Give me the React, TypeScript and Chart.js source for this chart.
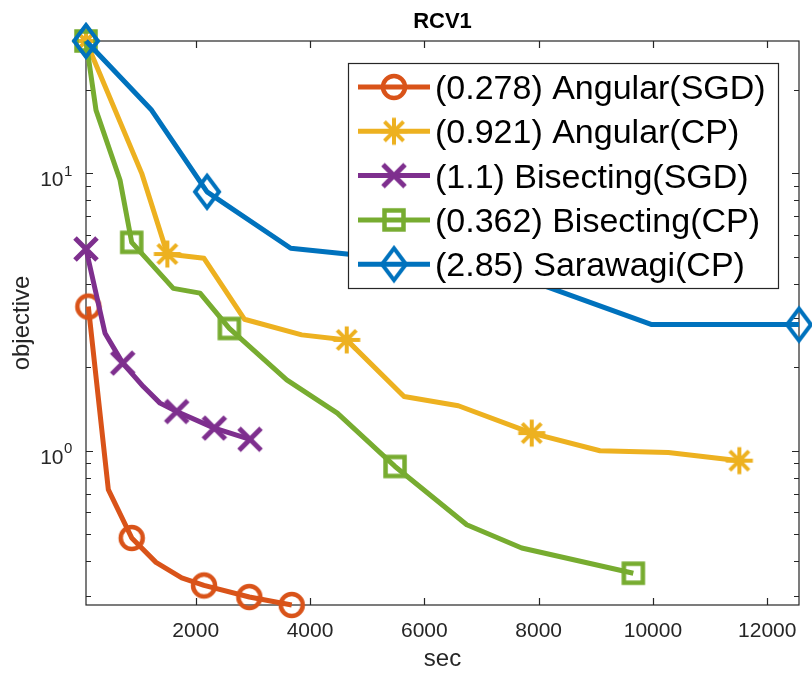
import React, { useEffect, useRef } from 'react';
import { Chart, registerables } from 'chart.js';

Chart.register(...registerables);

// ---------------- data ----------------
const TITLE = 'RCV1';
const X_LABEL = 'sec';
const Y_LABEL = 'objective';

const X_MIN = 80;
const X_MAX = 12556;
const Y_MIN = 0.278;
const Y_MAX = 30;

const X_TICKS = [2000, 4000, 6000, 8000, 10000, 12000];
const X_TICK_LABELS = ['2000', '4000', '6000', '8000', '10000', '12000'];
const Y_MAJOR_TICKS = [1, 10];
const Y_MAJOR_EXPONENTS = ['0', '1'];
const Y_MINOR_TICKS = [0.3, 0.4, 0.5, 0.6, 0.7, 0.8, 0.9, 2, 3, 4, 5, 6, 7, 8, 9, 20];

const SERIES_LABELS = [
  '(0.278) Angular(SGD)',
  '(0.921) Angular(CP)',
  '(1.1) Bisecting(SGD)',
  '(0.362) Bisecting(CP)',
  '(2.85) Sarawagi(CP)',
];

const angularSgdX = [121, 471, 880, 1305, 1755, 2145, 2938, 3680];
const angularSgdY = [3.31, 0.724, 0.485, 0.396, 0.348, 0.327, 0.297, 0.278];
const angularSgdMarks = [0, 2, 5, 6, 7];

const angularCpX = [80, 1055, 1503, 2145, 2851, 3855, 4642, 5645, 6595, 7879, 9074, 10269, 11512];
const angularCpY = [30, 10.0, 5.12, 4.94, 2.98, 2.617, 2.51, 1.569, 1.453, 1.158, 1.0, 0.986, 0.921];
const angularCpMarks = [0, 2, 6, 9, 12];

const bisectingSgdX = [80, 413, 723, 1083, 1375, 1667, 2326, 2950];
const bisectingSgdY = [5.34, 2.654, 2.07, 1.704, 1.485, 1.385, 1.207, 1.1];
const bisectingSgdMarks = [0, 2, 5, 6, 7];

const bisectingCpX = [80, 255, 675, 880, 1608, 2075, 2588, 3592, 4478, 5487, 6742, 7704, 9657];
const bisectingCpY = [30, 16.9, 9.46, 5.64, 3.85, 3.7, 2.76, 1.8, 1.367, 0.878, 0.541, 0.446, 0.362];
const bisectingCpMarks = [0, 3, 6, 9, 12];

const sarawagiCpX = [80, 1218, 2198, 3662, 7325, 9980, 12556];
const sarawagiCpY = [30, 17.0, 8.58, 5.37, 4.49, 2.85, 2.85];
const sarawagiCpMarks = [0, 2, 6];

// ---------------- styles ----------------
const FONT = '"Liberation Sans", Arial, Helvetica, sans-serif';
const AXIS_COLOR = '#262626';
const COLORS = ['#D95319', '#EDB120', '#7E2F8E', '#77AC30', '#0072BD'];
const MARKERS = ['circle', 'asterisk', 'x', 'square', 'diamond'];

function makeMarker(kind: string, color: string): HTMLCanvasElement {
  const c = document.createElement('canvas');
  c.width = 48;
  c.height = 48;
  const g = c.getContext('2d')!;
  g.translate(24, 24);
  g.strokeStyle = color;
  g.lineCap = 'butt';
  g.lineJoin = 'miter';
  g.beginPath();
  if (kind === 'circle') {
    g.lineWidth = 4.5;
    g.arc(0, 0, 11, 0, Math.PI * 2);
  } else if (kind === 'asterisk') {
    g.lineWidth = 4;
    const r = 13.5;
    for (let k = 0; k < 4; k++) {
      const a = (k * Math.PI) / 4;
      g.moveTo(-r * Math.cos(a), -r * Math.sin(a));
      g.lineTo(r * Math.cos(a), r * Math.sin(a));
    }
  } else if (kind === 'x') {
    g.lineWidth = 5;
    const r = 11;
    g.moveTo(-r, -r);
    g.lineTo(r, r);
    g.moveTo(-r, r);
    g.lineTo(r, -r);
  } else if (kind === 'square') {
    g.lineWidth = 4.5;
    g.rect(-9.5, -9.5, 19, 19);
  } else if (kind === 'diamond') {
    g.lineWidth = 4;
    g.moveTo(0, -16);
    g.lineTo(12, 0);
    g.lineTo(0, 16);
    g.lineTo(-12, 0);
    g.closePath();
  }
  g.stroke();
  return c;
}

function makeAxesPlugin(markers: HTMLCanvasElement[]) {
  return {
    id: 'matlabAxes',
    beforeDatasetsDraw(chart: any) {
      const { ctx, chartArea: a, scales } = chart;
      const xs = scales.x;
      const ys = scales.y;
      ctx.save();
      ctx.strokeStyle = AXIS_COLOR;
      ctx.lineWidth = 1.2;
      ctx.strokeRect(a.left, a.top, a.right - a.left, a.bottom - a.top);

      ctx.beginPath();
      X_TICKS.forEach((t) => {
        const p = Math.round(xs.getPixelForValue(t)) + 0.5;
        ctx.moveTo(p, a.bottom);
        ctx.lineTo(p, a.bottom - 7);
        ctx.moveTo(p, a.top);
        ctx.lineTo(p, a.top + 7);
      });
      Y_MAJOR_TICKS.forEach((t) => {
        const p = Math.round(ys.getPixelForValue(t)) + 0.5;
        ctx.moveTo(a.left, p);
        ctx.lineTo(a.left + 7, p);
        ctx.moveTo(a.right, p);
        ctx.lineTo(a.right - 7, p);
      });
      Y_MINOR_TICKS.forEach((t) => {
        const p = Math.round(ys.getPixelForValue(t)) + 0.5;
        ctx.moveTo(a.left, p);
        ctx.lineTo(a.left + 5, p);
        ctx.moveTo(a.right, p);
        ctx.lineTo(a.right - 5, p);
      });
      ctx.stroke();

      // tick labels
      ctx.fillStyle = AXIS_COLOR;
      ctx.font = `21px ${FONT}`;
      ctx.textAlign = 'center';
      ctx.textBaseline = 'alphabetic';
      X_TICKS.forEach((t, i) => {
        ctx.fillText(X_TICK_LABELS[i], xs.getPixelForValue(t), a.bottom + 32);
      });
      Y_MAJOR_TICKS.forEach((t, i) => {
        const p = ys.getPixelForValue(t);
        ctx.font = `21px ${FONT}`;
        ctx.textAlign = 'right';
        ctx.fillText('10', a.left - 22.5, p + 12.8);
        ctx.font = `15px ${FONT}`;
        ctx.textAlign = 'left';
        ctx.fillText(Y_MAJOR_EXPONENTS[i], a.left - 22, p + 2.5);
      });

      // axis labels
      ctx.font = `24px ${FONT}`;
      ctx.textAlign = 'center';
      ctx.fillText(X_LABEL, (a.left + a.right) / 2, a.bottom + 61);
      ctx.save();
      ctx.translate(28.5, (a.top + a.bottom) / 2);
      ctx.rotate(-Math.PI / 2);
      ctx.fillText(Y_LABEL, 0, 0);
      ctx.restore();

      // title
      ctx.fillStyle = '#000';
      ctx.font = `bold 22px ${FONT}`;
      ctx.fillText(TITLE, (a.left + a.right) / 2, 27.5);
      ctx.restore();
    },
    afterDraw(chart: any) {
      const { ctx } = chart;
      ctx.save();
      const bx = 348, by = 63, bw = 430, bh = 225;
      ctx.fillStyle = '#fff';
      ctx.fillRect(bx, by, bw, bh);
      ctx.strokeStyle = AXIS_COLOR;
      ctx.lineWidth = 1.2;
      ctx.strokeRect(bx + 0.5, by + 0.5, bw, bh);
      SERIES_LABELS.forEach((label, i) => {
        const y = 87 + i * 44.3;
        ctx.strokeStyle = COLORS[i];
        ctx.lineWidth = 5;
        ctx.beginPath();
        ctx.moveTo(358, y);
        ctx.lineTo(430, y);
        ctx.stroke();
        const m = markers[i];
        ctx.drawImage(m, 394 - m.width / 2, y - m.height / 2);
        ctx.fillStyle = '#000';
        ctx.font = `34px ${FONT}`;
        ctx.textAlign = 'left';
        ctx.textBaseline = 'alphabetic';
        ctx.fillText(label, 435, y + 12);
      });
      ctx.restore();
    },
  };
}

export default function App() {
  const ref = useRef<HTMLCanvasElement | null>(null);

  useEffect(() => {
    const markers = MARKERS.map((m, i) => makeMarker(m, COLORS[i]));
    const series = [
      { xs: angularSgdX, ys: angularSgdY, marks: angularSgdMarks },
      { xs: angularCpX, ys: angularCpY, marks: angularCpMarks },
      { xs: bisectingSgdX, ys: bisectingSgdY, marks: bisectingSgdMarks },
      { xs: bisectingCpX, ys: bisectingCpY, marks: bisectingCpMarks },
      { xs: sarawagiCpX, ys: sarawagiCpY, marks: sarawagiCpMarks },
    ];
    const datasets = series.map((s, i) => ({
      label: SERIES_LABELS[i],
      data: s.xs.map((x, j) => ({ x, y: s.ys[j] })),
      borderColor: COLORS[i],
      backgroundColor: COLORS[i],
      borderWidth: 5,
      borderJoinStyle: 'round' as const,
      tension: 0,
      fill: false,
      clip: false as any,
      order: 5 - i,
      pointStyle: markers[i] as any,
      pointRadius: (c: any) => (s.marks.includes(c.dataIndex) ? 12 : 0),
      pointHoverRadius: (c: any) => (s.marks.includes(c.dataIndex) ? 12 : 0),
      pointBorderWidth: 0,
    }));

    const chart = new Chart(ref.current!, {
      type: 'line',
      data: { datasets },
      options: {
        responsive: false,
        animation: false,
        events: [],
        layout: { padding: { left: 86, top: 41, right: 13, bottom: 68 } },
        scales: {
          x: { type: 'linear', min: X_MIN, max: X_MAX, display: false },
          y: { type: 'logarithmic', min: Y_MIN, max: Y_MAX, display: false },
        },
        plugins: {
          legend: { display: false },
          tooltip: { enabled: false },
          title: { display: false },
        },
      },
      plugins: [makeAxesPlugin(markers)],
    });
    return () => chart.destroy();
  }, []);

  return (
    <div style={{ position: 'fixed', left: 0, top: 0, width: 812, height: 673, background: '#fff' }}>
      <canvas ref={ref} width={812} height={673} style={{ display: 'block' }} />
    </div>
  );
}
